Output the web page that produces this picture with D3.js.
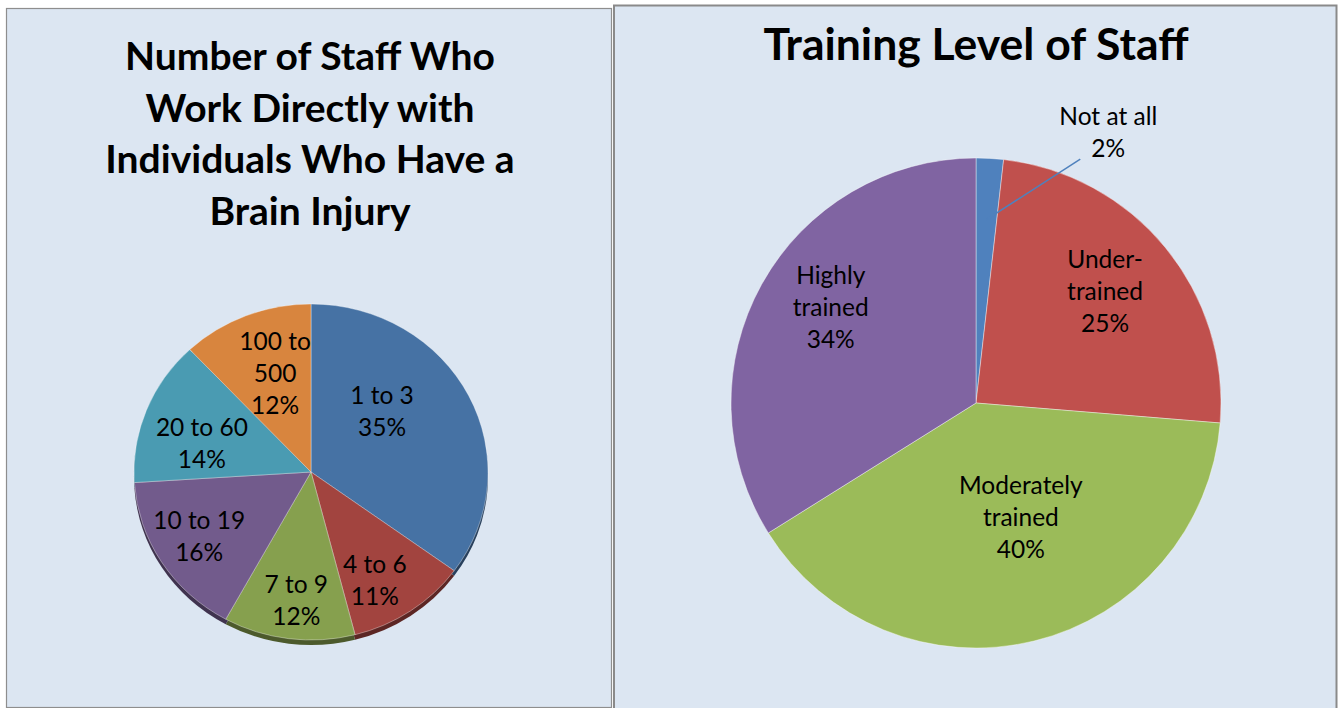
<!DOCTYPE html>
<html>
<head>
<meta charset="utf-8">
<script src="https://cdn.jsdelivr.net/npm/d3@7"></script>
<style>
  body { margin: 0; background: #fff; }
  text { font-family: Lato, "Open Sans", sans-serif; }
</style>
</head>
<body>
<div id="chart"></div>
<script>
// --- Data ---
const staffCategories = ['1 to 3', '4 to 6', '7 to 9', '10 to 19', '20 to 60', '100 to 500'];
const staffShares = [35, 11, 12, 16, 14, 12];
const staffTitle = ['Number of Staff Who', 'Work Directly with', 'Individuals Who Have a', 'Brain Injury'];

const trainingCategories = ['Not at all', 'Under-trained', 'Moderately trained', 'Highly trained'];
const trainingShares = [1.8, 24.5, 39.8, 33.9];
const trainingTitle = ['Training Level of Staff'];

// --- Layout / styles ---
const width = 1338;
const height = 708;
const panelFill = '#dce6f2';
const staffColors = ['#4672a4', '#a2443f', '#86a04e', '#725b8c', '#4a9bb2', '#d8853e'];
const trainingColors = ['#4f81bd', '#c0504d', '#9bbb59', '#8064a2'];
// label placement: [fraction of radius, angle nudge in degrees]
const staffLabelPos = [[0.54, -15], [0.74, 5], [0.77, -1], [0.74, 1], [0.64, -6], [0.62, 2.5]];
const trainingLabelPos = [[1.23, 22.8], [0.695, -1.3], [0.5, -7.8], [0.71, 4.4]];
const labelSize = 24.5;
const lineHeight = 32;

const svg = d3.select('#chart').append('svg')
    .attr('width', width)
    .attr('height', height);

// --- Panels ---
svg.append('rect')
    .attr('x', 6.5).attr('y', 8.5)
    .attr('width', 605).attr('height', 699)
    .attr('fill', panelFill)
    .attr('stroke', '#8e8e8e')
    .attr('stroke-width', 1.2);

svg.append('rect')
    .attr('x', 614).attr('y', 5.5)
    .attr('width', 722.5).attr('height', 720)
    .attr('fill', panelFill)
    .attr('stroke', '#8a8a8a')
    .attr('stroke-width', 2);

// --- Titles ---
svg.append('text')
    .attr('text-anchor', 'middle')
    .attr('font-weight', 700)
    .attr('font-size', 39)
    .selectAll('tspan')
    .data(staffTitle)
    .join('tspan')
    .attr('x', 310)
    .attr('y', (d, i) => 70 + i * 51.5)
    .text(d => d);

svg.append('text')
    .attr('text-anchor', 'middle')
    .attr('font-weight', 700)
    .attr('font-size', 44.5)
    .selectAll('tspan')
    .data(trainingTitle)
    .join('tspan')
    .attr('x', 976)
    .attr('y', 60)
    .text(d => d);

const pie = d3.pie().sort(null).value(d => d);
const rad = deg => deg * Math.PI / 180;

// split a label after spaces / hyphens so that each line fits in maxW
function wrapLabel(str, maxW) {
    const tokens = str.match(/[^\s-]+-?\s*/g);
    const probe = svg.append('text').attr('font-size', labelSize);
    const lines = [];
    let cur = '';
    tokens.forEach(t => {
        const test = cur + t;
        probe.text(test.trim());
        if (cur && probe.node().getComputedTextLength() > maxW) {
            lines.push(cur.trim());
            cur = t;
        } else {
            cur = test;
        }
    });
    lines.push(cur.trim());
    probe.remove();
    return lines;
}

function drawLabel(g, x, y, lines) {
    const top = y - (lines.length - 1) * lineHeight / 2 + labelSize * 0.35;
    g.append('text')
        .attr('text-anchor', 'middle')
        .attr('font-size', labelSize)
        .attr('fill', '#000')
        .selectAll('tspan')
        .data(lines)
        .join('tspan')
        .attr('x', x)
        .attr('y', (d, i) => top + i * lineHeight)
        .text(d => d);
}

// --- Left pie (tilted, with a thin side) ---
const sCx = 311, sCy = 472, sRx = 177, sRy = 168, sDepth = 5;
const staffArcs = pie(staffShares);
const staffArc = d3.arc().innerRadius(0).outerRadius(sRx);

svg.append('g')
    .attr('transform', `translate(${sCx},${sCy + sDepth}) scale(1,${sRy / sRx})`)
    .selectAll('path')
    .data(staffArcs)
    .join('path')
    .attr('d', staffArc)
    .attr('fill', (d, i) => d3.color(staffColors[i]).darker(1.6));

svg.append('g')
    .attr('transform', `translate(${sCx},${sCy}) scale(1,${sRy / sRx})`)
    .selectAll('path')
    .data(staffArcs)
    .join('path')
    .attr('d', staffArc)
    .attr('fill', (d, i) => staffColors[i])
    .attr('stroke', 'rgba(255,255,255,0.35)')
    .attr('stroke-width', 1)
    .attr('vector-effect', 'non-scaling-stroke');

const staffLabels = svg.append('g');
const staffTotal = d3.sum(staffShares);
staffArcs.forEach((d, i) => {
    const [f, nudge] = staffLabelPos[i];
    const a = (d.startAngle + d.endAngle) / 2 + rad(nudge);
    const x = sCx + f * sRx * Math.sin(a);
    const y = sCy - f * sRy * Math.cos(a);
    const pct = Math.round(d.value / staffTotal * 100) + '%';
    drawLabel(staffLabels, x, y, wrapLabel(staffCategories[i], 100).concat(pct));
});

// --- Right pie ---
const tCx = 976, tCy = 403, tR = 245;
const trainingArcs = pie(trainingShares);
const trainingArc = d3.arc().innerRadius(0).outerRadius(tR);

svg.append('g')
    .attr('transform', `translate(${tCx},${tCy})`)
    .selectAll('path')
    .data(trainingArcs)
    .join('path')
    .attr('d', trainingArc)
    .attr('fill', (d, i) => trainingColors[i])
    .attr('stroke', 'rgba(255,255,255,0.4)')
    .attr('stroke-width', 1);

const trainingLabels = svg.append('g');
const trainingTotal = d3.sum(trainingShares);
trainingArcs.forEach((d, i) => {
    const [f, nudge] = trainingLabelPos[i];
    const mid = (d.startAngle + d.endAngle) / 2;
    const a = mid + rad(nudge);
    const x = tCx + f * tR * Math.sin(a);
    const y = tCy - f * tR * Math.cos(a);
    const pct = Math.round(d.value / trainingTotal * 100) + '%';
    const outside = f > 1;
    const lines = outside ? [trainingCategories[i], pct] : wrapLabel(trainingCategories[i], 100).concat(pct);
    if (outside) {
        // leader line from the label into the slice
        trainingLabels.append('line')
            .attr('x1', x - 28).attr('y1', y + 27)
            .attr('x2', tCx + 0.75 * tR * Math.sin(mid))
            .attr('y2', tCy - 0.75 * tR * Math.cos(mid))
            .attr('stroke', trainingColors[i])
            .attr('stroke-width', 1.5);
    }
    drawLabel(trainingLabels, x, y, lines);
});
</script>
</body>
</html>
